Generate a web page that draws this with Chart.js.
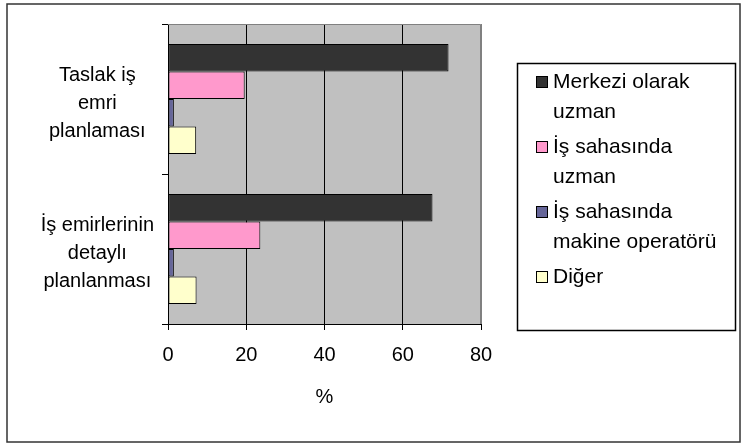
<!DOCTYPE html>
<html lang="tr">
<head>
<meta charset="utf-8">
<title>İş emri planlaması</title>
<script src="https://cdn.jsdelivr.net/npm/chart.js@4/dist/chart.umd.min.js"></script>
<style>
  html, body { margin: 0; padding: 0; background: #ffffff; }
  canvas { display: block; }
</style>
</head>
<body>
<canvas id="chart" width="743" height="445"></canvas>
<script>
// Categories (each label split into its display lines)
const categories = [
  ['Taslak iş', 'emri', 'planlaması'],
  ['İş emirlerinin', 'detaylı', 'planlanması']
];

// Series names, split into legend lines
const seriesNames = [
  ['Merkezi olarak', 'uzman'],
  ['İş sahasında', 'uzman'],
  ['İş sahasında', 'makine operatörü'],
  ['Diğer']
];

// Percentages per series, one value per category
const merkeziUzman = [71.7, 67.6];
const sahadaUzman = [19.6, 23.6];
const makineOperatoru = [1.5, 1.5];
const diger = [7.2, 7.3];

// X axis ticks and title
const xTicks = [0, 20, 40, 60, 80];
const xTitle = '%';

const seriesColors = ['#333333', '#FF99CC', '#666699', '#FFFFCC'];
const seriesValues = [merkeziUzman, sahadaUzman, makineOperatoru, diger];

const FONT = 'Arial, "Liberation Sans", sans-serif';

// Frame around the whole chart and the grey plot background
const framePlugin = {
  id: 'frame',
  beforeDraw(chart) {
    const { ctx, chartArea: a } = chart;
    ctx.save();
    ctx.fillStyle = '#ffffff';
    ctx.fillRect(0, 0, chart.width, chart.height);
    ctx.strokeStyle = '#333333';
    ctx.lineWidth = 1.5;
    ctx.strokeRect(7, 4, 733, 438);
    ctx.fillStyle = '#C0C0C0';
    ctx.fillRect(a.left, a.top, a.right - a.left, a.bottom - a.top);
    ctx.restore();
  },
  afterDatasetsDraw(chart) {
    const { ctx, chartArea: a } = chart;
    ctx.save();
    ctx.strokeStyle = '#808080';
    ctx.lineWidth = 1;
    ctx.beginPath();
    ctx.moveTo(a.left, a.top + 0.5);
    ctx.lineTo(a.right - 0.5, a.top + 0.5);
    ctx.lineTo(a.right - 0.5, a.bottom);
    ctx.stroke();
    ctx.restore();
  }
};

// Boxed legend on the right with multi-line entries
const boxLegendPlugin = {
  id: 'boxLegend',
  afterDraw(chart) {
    const { ctx } = chart;
    const box = { x: 517.5, y: 63.5, w: 218, h: 267 };
    ctx.save();
    ctx.fillStyle = '#ffffff';
    ctx.fillRect(box.x, box.y, box.w, box.h);
    ctx.strokeStyle = '#000000';
    ctx.lineWidth = 1.5;
    ctx.strokeRect(box.x, box.y, box.w, box.h);

    ctx.font = '21px ' + FONT;
    ctx.textBaseline = 'middle';
    ctx.textAlign = 'left';
    const lineGap = 30;
    const entryGap = 5;
    let y = 82;
    chart.data.datasets.forEach((ds) => {
      const lines = ds.legendLines;
      ctx.fillStyle = ds.backgroundColor;
      ctx.fillRect(536.5, y - 5.5, 11, 11);
      ctx.strokeStyle = '#000000';
      ctx.lineWidth = 1;
      ctx.strokeRect(536.5, y - 5.5, 11, 11);
      ctx.fillStyle = '#000000';
      lines.forEach((line, i) => {
        ctx.fillText(line, 553, y + i * lineGap);
      });
      y += lines.length * lineGap + entryGap;
    });
    ctx.restore();
  }
};

const datasets = seriesNames.map((name, i) => ({
  label: name.join(' '),
  legendLines: name,
  data: seriesValues[i],
  backgroundColor: seriesColors[i],
  borderColor: '#000000',
  borderWidth: 1,
  borderSkipped: false,
  barPercentage: 1.0,
  categoryPercentage: 0.733
}));

new Chart(document.getElementById('chart'), {
  type: 'bar',
  data: { labels: categories, datasets },
  plugins: [framePlugin, boxLegendPlugin],
  options: {
    indexAxis: 'y',
    responsive: false,
    animation: false,
    devicePixelRatio: 1,
    layout: { padding: { left: 0, right: 262, top: 24, bottom: 36 } },
    plugins: {
      legend: { display: false },
      tooltip: { enabled: false }
    },
    scales: {
      x: {
        type: 'linear',
        min: xTicks[0],
        max: xTicks[xTicks.length - 1],
        afterBuildTicks(scale) {
          scale.ticks = xTicks.map((v) => ({ value: v }));
        },
        afterFit(scale) {
          scale.height = 85;
          scale.paddingLeft = 0;
          scale.paddingRight = 0;
        },
        grid: {
          color: (c) => (c.tick && c.tick.value === 80 ? '#808080' : '#000000'),
          lineWidth: 1,
          tickLength: 6,
          tickColor: '#000000'
        },
        border: { color: '#000000', width: 1 },
        ticks: {
          color: '#000000',
          font: { family: FONT, size: 20 },
          padding: 13,
          maxRotation: 0
        },
        title: {
          display: true,
          text: xTitle,
          color: '#000000',
          font: { family: FONT, size: 20 },
          padding: 0
        }
      },
      y: {
        afterFit(scale) {
          scale.width = 168;
          scale.paddingTop = 0;
          scale.paddingBottom = 0;
        },
        grid: {
          drawOnChartArea: false,
          drawTicks: true,
          tickLength: 6,
          tickColor: '#000000',
          offset: true
        },
        border: { color: '#000000', width: 1 },
        ticks: {
          color: '#000000',
          crossAlign: 'center',
          padding: 8,
          labelOffset: 4,
          font: { family: FONT, size: 20, lineHeight: '28px' }
        }
      }
    }
  }
});
</script>
</body>
</html>
